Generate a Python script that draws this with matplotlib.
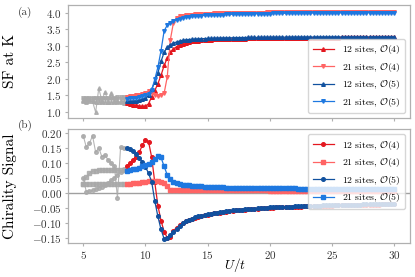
import numpy as np
import matplotlib
matplotlib.use('Agg')
import matplotlib.pyplot as plt
from matplotlib.ticker import MultipleLocator

plt.rcParams['font.family'] = 'cmr10'
plt.rcParams['mathtext.fontset'] = 'cm'
plt.rcParams['axes.formatter.use_mathtext'] = True

# U/t grids: unreliable region (gray) and converged region (coloured)
U_GRAY = np.arange(5.0, 8.26, 0.25)
U = np.arange(8.5, 30.01, 0.25)

LABELS = ['12 sites, $\\mathcal{O}(4)$', '21 sites, $\\mathcal{O}(4)$',
          '12 sites, $\\mathcal{O}(5)$', '21 sites, $\\mathcal{O}(5)$']
COLORS = ['#e3171f', '#ff6464', '#11519f', '#1e78e0']
GRAY = '#a9a9a9'

# ---- (a) structure factor at K ----
sf_12_o4 = [1.27, 1.24, 1.21, 1.19, 1.17, 1.16, 1.17, 1.24, 1.45, 1.64,
            1.85, 2.10, 2.40, 2.62, 2.80, 2.90, 2.97, 3.02, 3.06, 3.09,
            3.11, 3.13, 3.145, 3.155, 3.165, 3.172, 3.178, 3.183, 3.188, 3.192,
            3.196, 3.199, 3.202, 3.205, 3.208, 3.210, 3.212, 3.214, 3.216, 3.218,
            3.220, 3.222, 3.223, 3.225, 3.226, 3.228, 3.229, 3.230, 3.231, 3.232,
            3.233, 3.234, 3.235, 3.236, 3.237, 3.238, 3.239, 3.240, 3.240, 3.241,
            3.242, 3.242, 3.243, 3.244, 3.244, 3.245, 3.245, 3.246, 3.246, 3.247,
            3.247, 3.248, 3.248, 3.248, 3.249, 3.249, 3.249, 3.250, 3.250, 3.250,
            3.251, 3.251, 3.251, 3.252, 3.252, 3.252, 3.252]
sf_21_o4 = [1.44, 1.46, 1.48, 1.50, 1.52, 1.55, 1.58, 1.62, 1.57, 1.50,
            1.48, 1.50, 1.56, 2.05, 3.18, 3.70, 3.84, 3.89, 3.91, 3.925,
            3.935, 3.943, 3.950, 3.956, 3.961, 3.965, 3.969, 3.972, 3.975, 3.978,
            3.980, 3.983, 3.985, 3.987, 3.989, 3.991, 3.993, 3.995, 3.997, 3.998,
            4.000, 4.001, 4.002, 4.003, 4.004, 4.005, 4.006, 4.007, 4.008, 4.009,
            4.010, 4.011, 4.012, 4.012, 4.013, 4.014, 4.014, 4.015, 4.016, 4.016,
            4.017, 4.017, 4.018, 4.018, 4.019, 4.019, 4.020, 4.020, 4.021, 4.021,
            4.021, 4.022, 4.022, 4.022, 4.023, 4.023, 4.023, 4.024, 4.024, 4.024,
            4.024, 4.025, 4.025, 4.025, 4.025, 4.026, 4.026]
sf_12_o5 = [1.31, 1.31, 1.32, 1.33, 1.35, 1.37, 1.41, 1.50, 1.68, 1.90,
            2.18, 2.52, 2.80, 2.95, 3.03, 3.08, 3.11, 3.14, 3.16, 3.175,
            3.185, 3.193, 3.200, 3.205, 3.210, 3.214, 3.218, 3.222, 3.225, 3.228,
            3.231, 3.233, 3.235, 3.237, 3.239, 3.241, 3.243, 3.244, 3.246, 3.247,
            3.248, 3.249, 3.250, 3.251, 3.252, 3.253, 3.254, 3.255, 3.255, 3.256,
            3.257, 3.257, 3.258, 3.258, 3.259, 3.259, 3.260, 3.260, 3.261, 3.261,
            3.261, 3.262, 3.262, 3.262, 3.263, 3.263, 3.263, 3.264, 3.264, 3.264,
            3.264, 3.265, 3.265, 3.265, 3.265, 3.266, 3.266, 3.266, 3.266, 3.266,
            3.267, 3.267, 3.267, 3.267, 3.267, 3.268, 3.268]
sf_21_o5 = [1.39, 1.40, 1.41, 1.42, 1.44, 1.46, 1.49, 1.54, 1.66, 1.98,
            2.35, 2.85, 3.45, 3.62, 3.70, 3.74, 3.78, 3.81, 3.84, 3.86,
            3.875, 3.885, 3.895, 3.903, 3.910, 3.916, 3.921, 3.926, 3.930, 3.934,
            3.938, 3.941, 3.944, 3.947, 3.950, 3.953, 3.955, 3.957, 3.959, 3.961,
            3.963, 3.965, 3.967, 3.969, 3.970, 3.972, 3.973, 3.975, 3.976, 3.977,
            3.978, 3.979, 3.980, 3.981, 3.982, 3.983, 3.984, 3.985, 3.986, 3.987,
            3.988, 3.988, 3.989, 3.990, 3.990, 3.991, 3.992, 3.992, 3.993, 3.993,
            3.994, 3.994, 3.995, 3.995, 3.996, 3.996, 3.997, 3.997, 3.997, 3.998,
            3.998, 3.998, 3.999, 3.999, 3.999, 4.000, 4.000]

sf_gray_12_o4 = [1.33, 1.32, 1.31, 1.31, 1.30, 1.30, 1.30, 1.29, 1.29, 1.29, 1.28, 1.28, 1.28, 1.27]
sf_gray_21_o4 = [1.41, 1.42, 1.41, 1.42, 1.42, 1.41, 1.42, 1.42, 1.42, 1.43, 1.42, 1.43, 1.43, 1.43]
sf_gray_12_o5 = [1.36, 1.30, 1.38, 1.31, 0.98, 1.71, 1.33, 1.61, 1.30, 1.58, 1.33, 1.32, 1.31, 1.31]
sf_gray_21_o5 = [1.36, 1.37, 1.36, 1.37, 1.37, 1.36, 1.37, 1.37, 1.37, 1.37, 1.38, 1.38, 1.38, 1.38]

# ---- (b) chirality signal ----
ch_12_o4 = [0.088, 0.100, 0.111, 0.121, 0.135, 0.158, 0.176, 0.170, 0.118, 0.035,
            -0.042, -0.092, -0.128, -0.148, -0.145, -0.125, -0.115, -0.106, -0.099, -0.094,
            -0.090, -0.086, -0.082, -0.079, -0.076, -0.074, -0.072, -0.070, -0.068, -0.066,
            -0.065, -0.063, -0.062, -0.061, -0.059, -0.058, -0.057, -0.056, -0.055, -0.054,
            -0.053, -0.053, -0.052, -0.051, -0.050, -0.050, -0.049, -0.049, -0.048, -0.048,
            -0.047, -0.047, -0.046, -0.046, -0.045, -0.045, -0.045, -0.044, -0.044, -0.044,
            -0.043, -0.043, -0.043, -0.042, -0.042, -0.042, -0.042, -0.041, -0.041, -0.041,
            -0.041, -0.040, -0.040, -0.040, -0.040, -0.040, -0.039, -0.039, -0.039, -0.039,
            -0.039, -0.039, -0.038, -0.038, -0.038, -0.038, -0.038]
ch_21_o4 = [0.030, 0.031, 0.032, 0.033, 0.034, 0.036, 0.037, 0.039, 0.040, 0.040,
            0.040, 0.038, 0.034, 0.024, 0.009, 0.009, 0.010, 0.010, 0.010, 0.010,
            0.010, 0.010, 0.010, 0.010, 0.010, 0.010, 0.010, 0.010, 0.010, 0.010,
            0.010, 0.010, 0.010, 0.009, 0.009, 0.009, 0.009, 0.009, 0.009, 0.009,
            0.009, 0.009, 0.009, 0.009, 0.009, 0.009, 0.008, 0.008, 0.008, 0.008,
            0.008, 0.008, 0.008, 0.008, 0.008, 0.008, 0.008, 0.008, 0.008, 0.008,
            0.008, 0.008, 0.008, 0.008, 0.008, 0.008, 0.008, 0.007, 0.007, 0.007,
            0.007, 0.007, 0.007, 0.007, 0.007, 0.007, 0.007, 0.007, 0.007, 0.007,
            0.007, 0.007, 0.007, 0.007, 0.007, 0.007, 0.007]
ch_12_o5 = [0.150, 0.146, 0.139, 0.129, 0.117, 0.103, 0.087, 0.065, 0.037, -0.027,
            -0.078, -0.121, -0.152, -0.150, -0.140, -0.129, -0.118, -0.108, -0.100, -0.094,
            -0.089, -0.085, -0.081, -0.078, -0.075, -0.073, -0.071, -0.069, -0.067, -0.065,
            -0.064, -0.062, -0.061, -0.060, -0.058, -0.057, -0.056, -0.055, -0.054, -0.053,
            -0.052, -0.052, -0.051, -0.050, -0.049, -0.049, -0.048, -0.048, -0.047, -0.047,
            -0.046, -0.046, -0.045, -0.045, -0.044, -0.044, -0.044, -0.043, -0.043, -0.043,
            -0.042, -0.042, -0.042, -0.041, -0.041, -0.041, -0.041, -0.040, -0.040, -0.040,
            -0.040, -0.039, -0.039, -0.039, -0.039, -0.039, -0.038, -0.038, -0.038, -0.038,
            -0.038, -0.038, -0.037, -0.037, -0.037, -0.037, -0.037]
ch_21_o5 = [0.073, 0.075, 0.078, 0.081, 0.084, 0.088, 0.092, 0.097, 0.103, 0.112,
            0.123, 0.118, 0.088, 0.060, 0.045, 0.038, 0.033, 0.030, 0.028, 0.026,
            0.025, 0.024, 0.023, 0.022, 0.022, 0.021, 0.021, 0.020, 0.020, 0.019,
            0.019, 0.019, 0.018, 0.018, 0.018, 0.018, 0.017, 0.017, 0.017, 0.017,
            0.017, 0.016, 0.016, 0.016, 0.016, 0.016, 0.016, 0.015, 0.015, 0.015,
            0.015, 0.015, 0.015, 0.015, 0.015, 0.014, 0.014, 0.014, 0.014, 0.014,
            0.014, 0.014, 0.014, 0.014, 0.014, 0.014, 0.014, 0.014, 0.014, 0.014,
            0.014, 0.014, 0.013, 0.013, 0.013, 0.013, 0.013, 0.013, 0.013, 0.013,
            0.013, 0.013, 0.013, 0.013, 0.013, 0.013, 0.013]

ch_gray_12_o4 = [0.050, 0.004, 0.006, 0.009, 0.012, 0.016, 0.021, 0.027, 0.034, 0.042, 0.050, 0.060, 0.069, 0.078]
ch_gray_21_o4 = [0.030, 0.030, 0.030, 0.030, 0.029, 0.029, 0.029, 0.029, 0.029, 0.029, 0.029, 0.029, 0.030, 0.030]
ch_gray_12_o5 = [0.190, 0.152, 0.165, 0.190, 0.135, 0.150, 0.120, 0.125, 0.110, 0.098, 0.090, -0.016, 0.151, 0.150]
ch_gray_21_o5 = [0.030, 0.052, 0.065, 0.072, 0.074, 0.075, 0.075, 0.075, 0.075, 0.075, 0.075, 0.075, 0.075, 0.075]


def style_axes(ax):
    for s in ax.spines.values():
        s.set_color('#b0b0b0')
        s.set_linewidth(0.9)
    ax.tick_params(colors='#b0b0b0', labelcolor='#333333', labelsize=8,
                   length=2.5, width=0.8, pad=1.5)
    ax.set_xlim(3.75, 31.25)
    ax.xaxis.set_major_locator(MultipleLocator(5))


fig = plt.figure(figsize=(4.15, 2.77), dpi=100)
ax1 = fig.add_axes([0.163, 0.573, 0.825, 0.410])
ax2 = fig.add_axes([0.163, 0.122, 0.825, 0.412])

gkw = dict(color=GRAY, lw=0.8, ms=2.6, alpha=0.85)
top_series = [sf_12_o4, sf_21_o4, sf_12_o5, sf_21_o5]
top_gray = [sf_gray_12_o4, sf_gray_21_o4, sf_gray_12_o5, sf_gray_21_o5]
top_markers = ['^', 'v', '^', 'v']
for g, m in zip(top_gray, top_markers):
    ax1.plot(U_GRAY, g, marker=m, **gkw)
for y, c, m, lab in zip(top_series, COLORS, top_markers, LABELS):
    ax1.plot(U, y, color=c, marker=m, lw=0.9, ms=2.6, label=lab)

bot_series = [ch_12_o4, ch_21_o4, ch_12_o5, ch_21_o5]
bot_gray = [ch_gray_12_o4, ch_gray_21_o4, ch_gray_12_o5, ch_gray_21_o5]
bot_markers = ['o', 's', 'o', 's']
ax2.axhline(0, color='#a0a0a0', lw=1.0, zorder=0)
for g, m in zip(bot_gray, bot_markers):
    ax2.plot(U_GRAY, g, marker=m, **gkw)
for y, c, m, lab in zip(bot_series, COLORS, bot_markers, LABELS):
    ax2.plot(U, y, color=c, marker=m, lw=0.9, ms=2.6, label=lab)

style_axes(ax1)
style_axes(ax2)
ax1.set_ylim(0.80, 4.24)
ax1.yaxis.set_major_locator(MultipleLocator(0.5))
ax1.tick_params(labelbottom=False)
ax2.set_ylim(-0.1666, 0.212)
ax2.yaxis.set_major_locator(MultipleLocator(0.05))

ax1.set_ylabel('SF at K', fontsize=11)
ax2.set_ylabel('Chirality Signal', fontsize=11)
ax1.yaxis.set_label_coords(-0.148, 0.5)
ax2.yaxis.set_label_coords(-0.148, 0.5)
ax2.set_xlabel('$U/t$', fontsize=9.5)
ax2.xaxis.set_label_coords(0.49, -0.115)

legkw = dict(fontsize=7, labelspacing=0.45, handlelength=2.2, borderpad=0.5,
             edgecolor='#cccccc', framealpha=0.8)
ax1.legend(loc='lower right', **legkw)
ax2.legend(loc='upper right', **legkw)

fig.text(0.06, 0.955, '(a)', fontsize=8, color='#333333', ha='center', va='center')
fig.text(0.06, 0.548, '(b)', fontsize=8, color='#333333', ha='center', va='center')

fig.savefig('out.png', dpi=100)
